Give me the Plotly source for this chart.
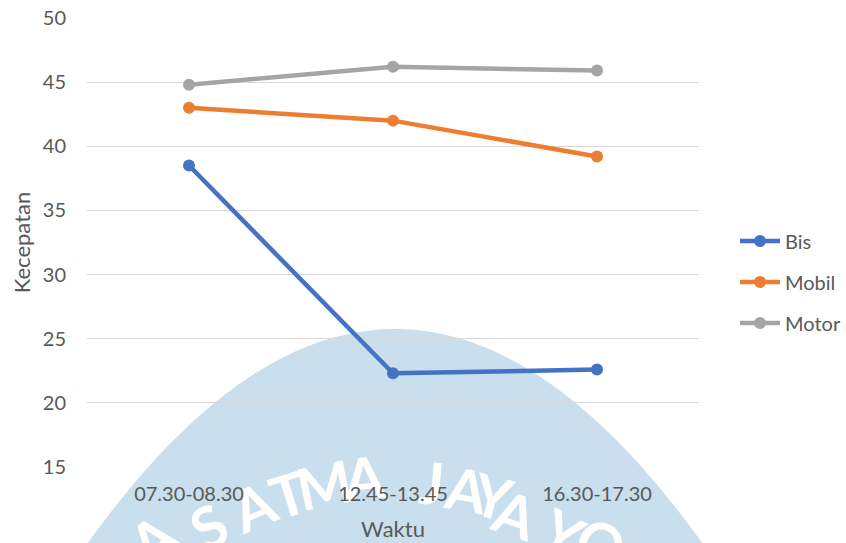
import math
import plotly.graph_objects as go

# ---- data ----
categories = ["07.30-08.30", "12.45-13.45", "16.30-17.30"]
bis = [38.5, 22.3, 22.6]
mobil = [43.0, 42.0, 39.2]
motor = [44.8, 46.2, 45.9]
series_names = ["Bis", "Mobil", "Motor"]
y_ticks = [15, 20, 25, 30, 35, 40, 45, 50]

colors = ["#4472C4", "#ED7D31", "#A5A5A5"]
FONT = "Lato, Carlito, Calibri, sans-serif"
TXT = "#595959"

W, H = 846, 543
L, R, T, B = 87, 147, 18, 76
PW, PH = W - L - R, H - T - B


def px(x):
    return (x - L) / PW


def py(y):
    return (H - B - y) / PH


fig = go.Figure()
for name, vals, c in zip(series_names, [bis, mobil, motor], colors):
    fig.add_trace(go.Scatter(
        x=categories, y=vals, name=name, mode="lines+markers",
        line=dict(color=c, width=4.5),
        marker=dict(color=c, size=12),
        legendgroup=name,
    ))

# ---- watermark (decoration) ----
shapes = []
pts = []
top_x, top_y = 395, 329
for i in range(0, 61):
    d = (i / 60) ** 2 * 240
    w = 21 * math.sqrt(d)
    pts.append((top_x - w, top_y + d))
left = pts[::-1]
right = [(top_x + (top_x - x), y) for x, y in pts[1:]]
path_pts = left + right
path = "M " + " L ".join(f"{px(x):.4f},{py(y):.4f}" for x, y in path_pts) + " Z"
shapes.append(dict(type="path", xref="paper", yref="paper", path=path,
                   fillcolor="rgb(201,223,237)", line=dict(width=0), layer="below"))

letters = [("A", 152, 538), ("S", 208, 525), ("A", 253, 505), ("T", 288, 493),
           ("M", 324, 483), ("A", 364, 476), ("J", 432, 481), ("A", 467, 488),
           ("Y", 493, 495), ("A", 516, 513), ("Y", 563, 532), ("O", 602, 542)]
cx, cy = 400, 855
for ch, x, y in letters:
    ang = math.degrees(math.atan2(x - cx, cy - y))
    shapes.append(dict(type="rect", xref="paper", yref="paper",
                       x0=px(x) - 0.0005, x1=px(x) + 0.0005,
                       y0=py(y) - 0.0005, y1=py(y) + 0.0005,
                       line=dict(width=0), fillcolor="rgba(0,0,0,0)", layer="below",
                       label=dict(text=ch, textangle=ang, textposition="middle center",
                                  font=dict(family=FONT, size=58, color="white", weight="bold"))))

fig.update_layout(
    width=W, height=H,
    margin=dict(l=L, r=R, t=T, b=B, autoexpand=False),
    paper_bgcolor="white", plot_bgcolor="rgba(0,0,0,0)",
    font=dict(family=FONT, size=20, color=TXT),
    shapes=shapes,
    showlegend=True,
    legend=dict(x=px(735), xanchor="left", y=py(282), yanchor="middle",
                font=dict(family=FONT, size=20, color=TXT),
                traceorder="grouped", tracegroupgap=12, itemwidth=40,
                bgcolor="rgba(0,0,0,0)"),
    xaxis=dict(
        type="category", range=[-0.5, 2.5], showgrid=False, showline=False,
        zeroline=False, ticks="", ticklabelstandoff=13, automargin=False,
        tickfont=dict(family=FONT, size=20, color=TXT),
        title=dict(text="Waktu", standoff=17, font=dict(family=FONT, size=22, color=TXT)),
    ),
    yaxis=dict(
        range=[15, 50], tickvals=y_ticks, showgrid=True, gridcolor="#D9D9D9",
        gridwidth=1, showline=False, zeroline=False, ticks="", ticklabelstandoff=20,
        automargin=False,
        tickfont=dict(family=FONT, size=20, color=TXT),
        title=dict(text="Kecepatan", standoff=6, font=dict(family=FONT, size=22, color=TXT)),
    ),
)

fig.write_html("out.html")
